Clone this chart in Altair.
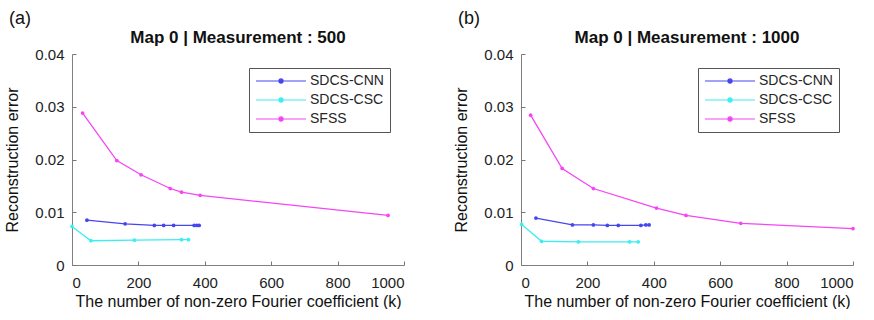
import altair as alt
import pandas as pd

methods = ["SDCS-CNN", "SDCS-CSC", "SFSS"]
colors = ["#4646ef", "#3aeef2", "#f545f5"]

# Panel (a): Measurement 500
a_cnn_k = [45, 160, 248, 276, 306, 368, 376, 383]
a_cnn_e = [0.0085, 0.0078, 0.0075, 0.0075, 0.0075, 0.0075, 0.0075, 0.0075]
a_csc_k = [0, 57, 188, 330, 351]
a_csc_e = [0.0073, 0.0046, 0.0047, 0.0048, 0.0048]
a_sfss_k = [32, 135, 208, 296, 330, 386, 952]
a_sfss_e = [0.0288, 0.0198, 0.0171, 0.0145, 0.0138, 0.0132, 0.0094]

# Panel (b): Measurement 1000
b_cnn_k = [45, 155, 218, 260, 293, 361, 376, 386]
b_cnn_e = [0.0089, 0.0076, 0.0076, 0.0075, 0.0075, 0.0075, 0.0076, 0.0076]
b_csc_k = [2, 62, 173, 327, 353]
b_csc_e = [0.0077, 0.0045, 0.0044, 0.0044, 0.0044]
b_sfss_k = [29, 124, 218, 408, 497, 662, 1000]
b_sfss_e = [0.0284, 0.0183, 0.0145, 0.0108, 0.0094, 0.0079, 0.0069]

titles = ["Map 0 | Measurement : 500", "Map 0 | Measurement : 1000"]
tags = ["(a)", "(b)"]

x_title = "The number of non-zero Fourier coefficient (k)"
y_title = "Reconstruction error"

FONT = "Liberation Sans"
W, H = 332, 211

# legend symbol: line with a dot, drawn to the right of the symbol column
sym_path = ("M-1,0H7.33"
            "M2.83,0A0.34,0.34 0 1,0 3.51,0A0.34,0.34 0 1,0 2.83,0")


def frame(series):
    rows = []
    for name, ks, es in series:
        for i, (k, e) in enumerate(zip(ks, es)):
            rows.append({"k": k, "err": e, "method": name, "order": i})
    return pd.DataFrame(rows)


def panel(df, title, tag):
    xs = alt.Scale(domain=[0, 1000], nice=False)
    ys = alt.Scale(domain=[0, 0.04], nice=False)
    color = alt.Color(
        "method:N",
        scale=alt.Scale(domain=methods, range=colors),
        legend=alt.Legend(
            title=None, orient="top-right", offset=14,
            symbolType=sym_path, symbolSize=144, symbolStrokeWidth=1.2,
            labelOffset=41, labelFont=FONT, labelFontSize=14,
            labelColor="#262626", rowPadding=5,
            strokeColor="#555555", fillColor="white", padding=6,
            cornerRadius=0,
        ),
    )
    line = alt.Chart(df).mark_line(
        strokeWidth=1.3,
        point=alt.OverlayMarkDef(filled=True, size=14, opacity=1),
    ).encode(
        x=alt.X("k:Q", scale=xs, axis=alt.Axis(
            title=x_title, values=[0, 200, 400, 600, 800, 1000], format="d",
            orient="bottom", tickSize=0, labelPadding=10, titlePadding=3,
            grid=False)),
        y=alt.Y("err:Q", scale=ys, axis=alt.Axis(
            title=y_title, values=[0, 0.01, 0.02, 0.03, 0.04], format="~g",
            orient="left", tickSize=0, labelPadding=8, titlePadding=14,
            grid=False)),
        color=color,
        order="order:Q",
    )
    ticks = alt.Chart(df).mark_point(opacity=0).encode(
        x=alt.X("k:Q", scale=xs, axis=alt.Axis(
            title=None, labels=False, domain=False, orient="top",
            offset=-H, values=[0, 200, 400, 600, 800, 1000],
            tickSize=4, tickColor="#777777", grid=False)),
        y=alt.Y("err:Q", scale=ys, axis=alt.Axis(
            title=None, labels=False, domain=False, orient="right",
            offset=-W, values=[0, 0.01, 0.02, 0.03, 0.04],
            tickSize=4, tickColor="#777777", grid=False)),
    )
    txt = pd.DataFrame({"tag": [tag], "title": [title]})
    label = alt.Chart(txt).mark_text(
        font=FONT, fontSize=18, align="left", baseline="middle", color="#111111"
    ).encode(x=alt.value(-63), y=alt.value(-35), text="tag:N")
    head = alt.Chart(txt).mark_text(
        font=FONT, fontSize=17, fontWeight="bold", align="center",
        baseline="middle", color="#111111"
    ).encode(x=alt.value(W / 2), y=alt.value(-16), text="title:N")
    return alt.layer(line, ticks, label, head).resolve_scale(
        x="independent", y="independent"
    ).resolve_axis(
        x="independent", y="independent"
    ).properties(width=W, height=H)


df_a = frame([("SDCS-CNN", a_cnn_k, a_cnn_e), ("SDCS-CSC", a_csc_k, a_csc_e),
              ("SFSS", a_sfss_k, a_sfss_e)])
df_b = frame([("SDCS-CNN", b_cnn_k, b_cnn_e), ("SDCS-CSC", b_csc_k, b_csc_e),
              ("SFSS", b_sfss_k, b_sfss_e)])

chart = alt.hconcat(
    panel(df_a, titles[0], tags[0]),
    panel(df_b, titles[1], tags[1]),
    spacing=48,
).resolve_scale(color="independent").properties(
    padding={"left": 4, "top": 10, "right": 0, "bottom": 0},
    background="white",
).configure_view(stroke=None).configure_axis(
    labelFont=FONT, titleFont=FONT, labelFontSize=15, titleFontSize=16,
    labelColor="#222222", titleColor="#111111", titleFontWeight="normal",
    domainColor="#808080", domainWidth=1,
)

chart.save("out.html", embed_options={"renderer": "svg", "actions": False})
